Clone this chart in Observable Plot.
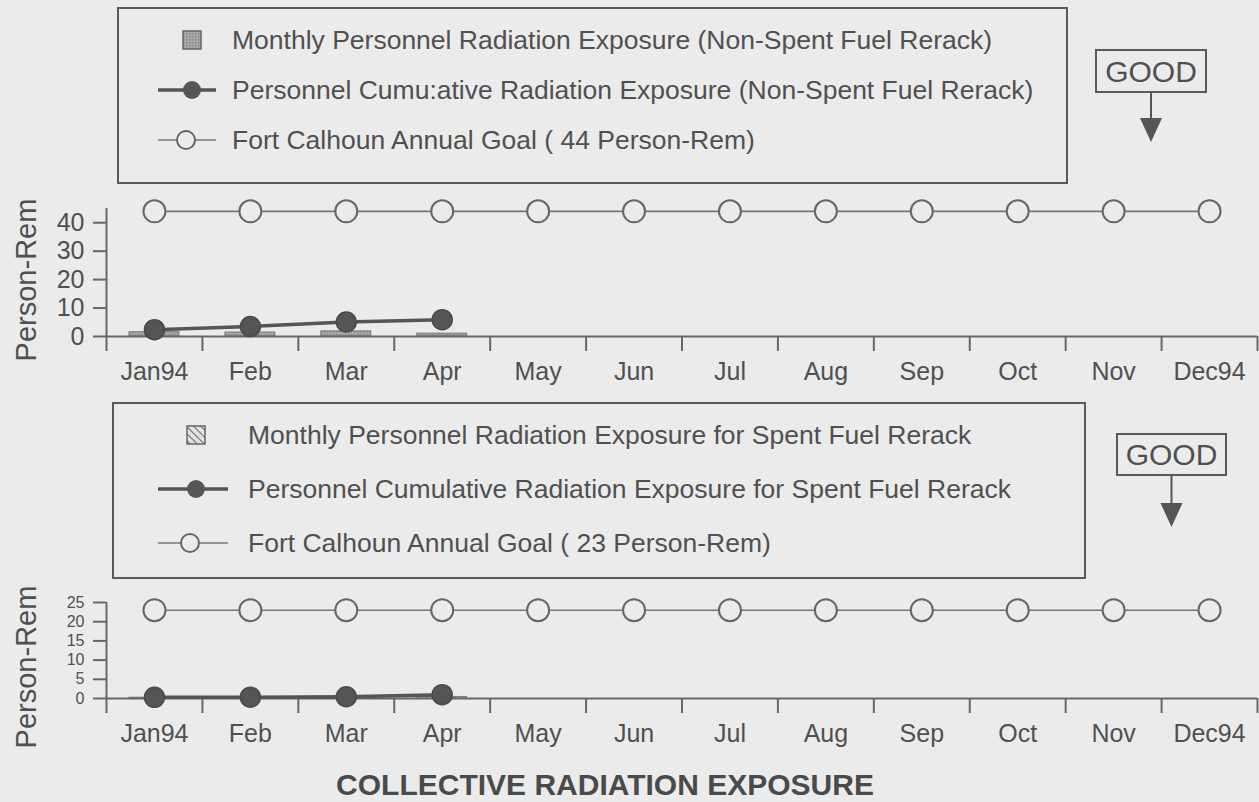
<!DOCTYPE html>
<html><head><meta charset="utf-8">
<script src="https://cdn.jsdelivr.net/npm/d3@7"></script>
<script src="https://cdn.jsdelivr.net/npm/@observablehq/plot@0.6"></script>
<style>
body{margin:0;background:#ebebeb;}
#wrap{position:relative;width:1259px;height:802px;overflow:hidden;font-family:"Liberation Sans",Arial,sans-serif;color:#505050;}
.panel{position:absolute;left:0;}
#overlay{position:absolute;left:0;top:0;pointer-events:none;}
#title{position:absolute;left:0;width:1210px;top:768px;text-align:center;font-weight:bold;font-size:30px;line-height:34px;color:#4a4a4a;}
</style></head><body><div id="wrap"></div>
<script>
// ---- data ----
const months = ["Jan94","Feb","Mar","Apr","May","Jun","Jul","Aug","Sep","Oct","Nov","Dec94"];
const goalTop = 44;
const goalBottom = 23;
const monthlyTop = [1.5, 1.4, 1.8, 1.0];
const cumulativeTop = [2.4, 3.5, 5.1, 5.9];
const monthlyBottom = [0.2, 0.1, 0.15, 0.4];
const cumulativeBottom = [0.3, 0.35, 0.45, 1.0];
const yTicksTop = [0, 10, 20, 30, 40];
const yTicksBottom = [0, 5, 10, 15, 20, 25];
const legendTop = [
  "Monthly Personnel Radiation Exposure (Non-Spent Fuel Rerack)",
  "Personnel Cumu:ative Radiation Exposure (Non-Spent Fuel Rerack)",
  "Fort Calhoun Annual Goal ( 44 Person-Rem)"
];
const legendBottom = [
  "Monthly Personnel Radiation Exposure for Spent Fuel Rerack",
  "Personnel Cumulative Radiation Exposure for Spent Fuel Rerack",
  "Fort Calhoun Annual Goal ( 23 Person-Rem)"
];
const yLabel = "Person-Rem";
const goodText = "GOOD";
const titleText = "COLLECTIVE RADIATION EXPOSURE";

const BG = "#ebebeb", INK = "#505050", LINE = "#666";
const wrap = d3.select("#wrap");

function panel({goal, monthly, cumulative, yTicks, yMax, yFont, height, marginTop, marginBottom, barFill}) {
  const idx = months.map((m, i) => i);
  const goalData = months.map((m, i) => ({i, v: goal}));
  const barData = monthly.map((v, i) => ({i, v}));
  const cumData = cumulative.map((v, i) => ({i, v}));
  const bounds = d3.range(-0.5, months.length, 1);
  return Plot.plot({
    width: 1259, height, marginLeft: 106, marginRight: 2, marginTop, marginBottom,
    style: {background: "transparent", color: INK, fontFamily: "Liberation Sans, Arial, sans-serif", fontSize: "25px", overflow: "visible"},
    x: {domain: [-0.5, months.length - 0.5], axis: null, label: null},
    y: {domain: [0, yMax], axis: null, label: null},
    marks: [
      Plot.rectY(barData, {x1: d => d.i - 0.26, x2: d => d.i + 0.26, y: "v", fill: barFill, stroke: "#777", strokeWidth: 1}),
      Plot.ruleY([0], {stroke: LINE, strokeWidth: 2}),
      Plot.ruleX([-0.5], {stroke: LINE, strokeWidth: 2}),
      Plot.axisY({ticks: yTicks, label: null, tickSize: 13, tickPadding: 9, fontSize: yFont, anchor: "left", stroke: LINE, strokeWidth: 2, fill: INK}),
      Plot.axisX({ticks: bounds, label: null, tickSize: 15, tickFormat: () => "", anchor: "bottom", stroke: LINE, strokeWidth: 2}),
      Plot.axisX({ticks: idx, label: null, tickSize: 0, tickPadding: 26, tickFormat: i => months[i], fontSize: 25, anchor: "bottom", fill: INK}),
      Plot.line(goalData, {x: "i", y: "v", stroke: "#777", strokeWidth: 1.6}),
      Plot.dot(goalData, {x: "i", y: "v", r: 11, fill: BG, stroke: "#666", strokeWidth: 2}),
      Plot.line(cumData, {x: "i", y: "v", stroke: "#555", strokeWidth: 3.5}),
      Plot.dot(cumData, {x: "i", y: "v", r: 10, fill: "#555", stroke: "#4a4a4a"})
    ]
  });
}

// overlay with pattern defs, legends, GOOD markers, y labels
const ov = wrap.append("svg").attr("id", "overlay").attr("width", 1259).attr("height", 802)
  .style("font-family", "Liberation Sans, Arial, sans-serif");
const defs = ov.append("defs");
const hatch = defs.append("pattern").attr("id", "hatch").attr("patternUnits", "userSpaceOnUse")
  .attr("width", 5).attr("height", 5).attr("patternTransform", "rotate(-45)");
hatch.append("rect").attr("width", 5).attr("height", 5).attr("fill", "#e2e2e2");
hatch.append("line").attr("x1", 0).attr("y1", 0).attr("x2", 0).attr("y2", 5).attr("stroke", "#666").attr("stroke-width", 2);
const stip = defs.append("pattern").attr("id", "stip").attr("patternUnits", "userSpaceOnUse").attr("width", 3).attr("height", 3);
stip.append("rect").attr("width", 3).attr("height", 3).attr("fill", "#a8a8a8");
stip.append("rect").attr("width", 1.5).attr("height", 1.5).attr("fill", "#888");

const p1 = panel({goal: goalTop, monthly: monthlyTop, cumulative: cumulativeTop, yTicks: yTicksTop, yMax: 45, yFont: 25,
  height: 200, marginTop: 18, marginBottom: 54, barFill: "url(#stip)"});
d3.select(p1).attr("class", "panel").style("top", "190px");
wrap.node().insertBefore(p1, ov.node());

const p2 = panel({goal: goalBottom, monthly: monthlyBottom, cumulative: cumulativeBottom, yTicks: yTicksBottom, yMax: 25, yFont: 16,
  height: 160, marginTop: 12, marginBottom: 52, barFill: "url(#hatch)"});
d3.select(p2).attr("class", "panel").style("top", "590px");
wrap.node().insertBefore(p2, ov.node());

function legend(g, {x, y, w, h, rows, textX, iconX, lineX1, lineX2, rowGap, fill}) {
  g.append("rect").attr("x", x).attr("y", y).attr("width", w).attr("height", h)
    .attr("fill", "none").attr("stroke", "#5a5a5a").attr("stroke-width", 2);
  const ry = i => y + 32 + i * rowGap;
  g.append("rect").attr("x", iconX - 9).attr("y", ry(0) - 9).attr("width", 18).attr("height", 18)
    .attr("fill", fill).attr("stroke", "#666").attr("stroke-width", 1.5);
  g.append("line").attr("x1", lineX1).attr("x2", lineX2).attr("y1", ry(1)).attr("y2", ry(1)).attr("stroke", "#555").attr("stroke-width", 3.5);
  g.append("circle").attr("cx", iconX).attr("cy", ry(1)).attr("r", 9).attr("fill", "#555");
  g.append("line").attr("x1", lineX1).attr("x2", lineX2).attr("y1", ry(2)).attr("y2", ry(2)).attr("stroke", "#777").attr("stroke-width", 1.6);
  g.append("circle").attr("cx", iconX - 6).attr("cy", ry(2)).attr("r", 9).attr("fill", BG).attr("stroke", "#666").attr("stroke-width", 2);
  rows.forEach((t, i) => g.append("text").attr("x", textX).attr("y", ry(i)).attr("dy", "0.35em")
    .attr("font-size", 26.5).attr("fill", INK).text(t));
}
legend(ov.append("g"), {x: 118, y: 8, w: 949, h: 175, rows: legendTop, textX: 232, iconX: 192, lineX1: 158, lineX2: 216, rowGap: 50, fill: "url(#stip)"});
legend(ov.append("g"), {x: 113, y: 403, w: 972, h: 175, rows: legendBottom, textX: 248, iconX: 196, lineX1: 158, lineX2: 228, rowGap: 54, fill: "url(#hatch)"});

function good(g, {x, y, w, h, tip}) {
  const cx = x + w / 2;
  g.append("rect").attr("x", x).attr("y", y).attr("width", w).attr("height", h)
    .attr("fill", "none").attr("stroke", "#5a5a5a").attr("stroke-width", 2);
  g.append("text").attr("x", cx).attr("y", y + h / 2).attr("dy", "0.36em").attr("text-anchor", "middle")
    .attr("font-size", 30).attr("fill", INK).text(goodText);
  g.append("line").attr("x1", cx).attr("x2", cx).attr("y1", y + h).attr("y2", tip - 22).attr("stroke", "#555").attr("stroke-width", 2);
  g.append("path").attr("d", `M${cx - 11},${tip - 24}L${cx + 11},${tip - 24}L${cx},${tip}Z`).attr("fill", "#555");
}
good(ov.append("g"), {x: 1096, y: 50, w: 110, h: 42, tip: 142});
good(ov.append("g"), {x: 1117, y: 434, w: 109, h: 41, tip: 527});

[[26, 280], [26, 667]].forEach(([x, y]) => ov.append("text")
  .attr("transform", `translate(${x},${y}) rotate(-90)`).attr("text-anchor", "middle").attr("dy", "0.36em")
  .attr("font-size", 29).attr("fill", INK).text(yLabel));

wrap.append("div").attr("id", "title").text(titleText);
</script>
</body></html>
